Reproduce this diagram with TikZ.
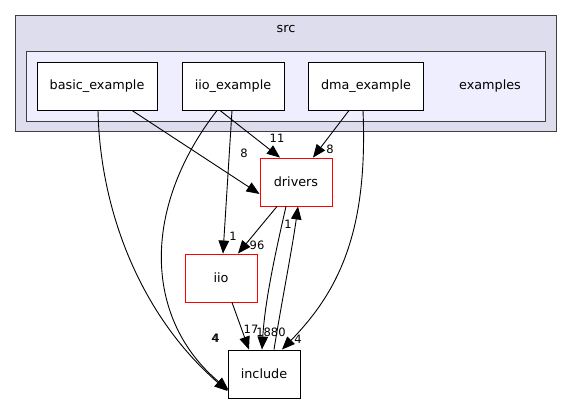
\documentclass[tikz,border=0pt]{standalone}
\usepackage{fontspec}
\setmainfont{DejaVu Sans}
\usetikzlibrary{arrows.meta}
\begin{document}
\begin{tikzpicture}[x=1pt,y=-1pt,
  box/.style={draw=black,fill=white,line width=0.9pt,minimum width=#1,minimum height=48pt,inner sep=0pt,font=\fontsize{12.8}{14}\selectfont},
  redbox/.style={draw=red,fill=white,line width=0.9pt,minimum width=#1,minimum height=48pt,inner sep=0pt,font=\fontsize{12.8}{14}\selectfont},
  cluster/.style={draw=black!75,line width=1pt},
  edge/.style={draw=black,line width=0.9pt,-{Triangle[length=13pt,width=10.5pt]}},
  lbl/.style={font=\fontsize{11.5}{12}\selectfont,inner sep=0pt}]
\useasboundingbox (0,0) rectangle (573,404);
\fill[white] (0,0) rectangle (573,404);
% clusters
\draw[cluster,fill={rgb,255:red,221;green,221;blue,238}] (15,16) rectangle (556,131);
\node[font=\fontsize{12.8}{14}\selectfont,inner sep=0pt] (srclbl) at (286,29) {src};
\draw[cluster,fill={rgb,255:red,238;green,238;blue,255}] (26,52) rectangle (545,121);
\node[font=\fontsize{12.8}{14}\selectfont,inner sep=0pt] (exlbl) at (490,86) {examples};
% nodes
\node[box=120pt] (basic) at (97,86) {basic\_example};
\node[box=102pt] (iioex) at (233,86) {iio\_example};
\node[box=115pt] (dma) at (366,86) {dma\_example};
\node[redbox=72pt] (drivers) at (296,182) {drivers};
\node[redbox=72pt] (iio) at (221,278) {iio};
\node[box=72pt] (include) at (264,374) {include};
% edges
\draw[edge] ([xshift=35pt]basic.south) -- ([yshift=-12pt]drivers.west);
\node[lbl] (l1) at (244,153) {8};
\draw[edge] ([xshift=1pt]basic.south) .. controls (100,210) and (140,315) .. ([yshift=-17pt]include.west);
\node[lbl] (l2) at (215,338) {4};
\draw[edge] ([xshift=-13pt]iioex.south) -- ([xshift=-16pt]drivers.north);
\node[lbl] (l3) at (277,138) {11};
\draw[edge] ([xshift=-1pt]iioex.south) -- ([xshift=2pt]iio.north);
\node[lbl] (l4) at (233,236) {1};
\draw[edge] ([xshift=-16pt]iioex.south) .. controls (140,210) and (145,320) .. ([xshift=1pt,yshift=-16pt]include.west);
\node[lbl] (l5) at (216,338) {4};
\draw[edge] ([xshift=-17pt]dma.south) -- ([xshift=17pt]drivers.north);
\node[lbl] (l6) at (330,149) {8};
\draw[edge] ([xshift=-3pt]dma.south) .. controls (368,230) and (340,290) .. ([xshift=18pt]include.north);
\node[lbl] (l7) at (298,339) {4};
\draw[edge] ([xshift=-19pt]drivers.south) -- ([xshift=17pt]iio.north);
\node[lbl] (l8) at (257,245) {96};
\draw[edge] ([xshift=-10pt]drivers.south) .. controls (276,250) and (265,300) .. ([xshift=-2pt]include.north);
\node[lbl] (l9) at (271,332) {1880};
\draw[edge] ([xshift=10pt]include.north) .. controls (282,300) and (292,250) .. ([xshift=2pt]drivers.south);
\node[lbl] (l10) at (288,224) {1};
\draw[edge] ([xshift=11pt]iio.south) -- ([xshift=-15pt]include.north);
\node[lbl] (l11) at (251,329) {17};
\end{tikzpicture}
\end{document}
